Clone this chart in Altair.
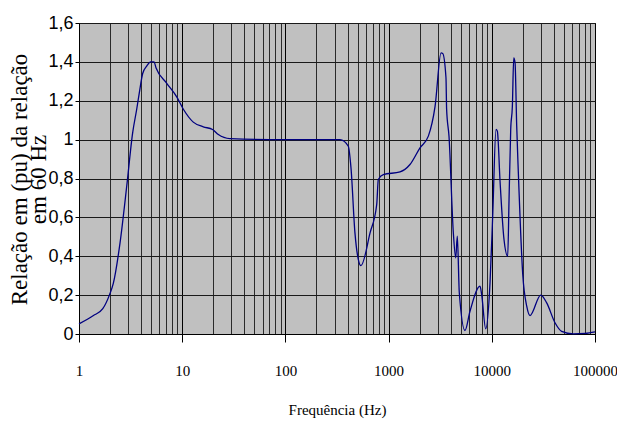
import altair as alt
import pandas as pd

freq = [1, 1.38, 1.70, 1.97, 2.15, 2.5, 2.9, 3.31, 3.62, 3.84, 4.14, 4.53, 4.95, 5.33, 5.57,
        7.08, 8.85, 10.3, 12.8, 16, 19.7, 22.4, 29, 100, 338, 407, 432, 472, 509, 540,
        661, 767, 795, 889, 1290, 1611, 2015, 2427, 2818, 3223, 3344, 3597, 3650, 3848, 4240,
        4470, 4633, 4843, 5498, 6147, 7685, 7976, 8725, 9610, 10200, 10990, 11320, 12020, 13130, 14260,
        14690, 15250, 15820, 16310, 16800, 17430, 18080, 19950, 21800, 23460, 29780, 34040, 40960, 47520, 61660,
        80000, 100000]
ratio = [0.052, 0.095, 0.13, 0.20, 0.26, 0.47, 0.76, 1.035, 1.155, 1.24, 1.34, 1.378, 1.40, 1.40, 1.37,
         1.29, 1.22, 1.155, 1.09, 1.066, 1.052, 1.026, 1.005, 1.0, 1.0, 0.966, 0.855, 0.52, 0.383, 0.352,
         0.52, 0.666, 0.795, 0.82, 0.834, 0.872, 0.958, 1.018, 1.17, 1.446, 1.443, 1.318, 1.155, 1.017, 0.52,
         0.392, 0.503, 0.212, 0.018, 0.117, 0.246, 0.203, 0.027, 0.263, 0.606, 1.052, 1.043, 0.786, 0.486, 0.40,
         0.69, 1.052, 1.17, 1.42, 1.395, 1.07, 0.83, 0.306, 0.143, 0.095, 0.20, 0.16, 0.058, 0.014, 0.001,
         0.003, 0.011]

decades = [1, 10, 100, 1000, 10000, 100000]
x_ticks = [m * d for d in decades[:-1] for m in range(1, 10)] + [decades[-1]]
y_ticks = [0, 0.2, 0.4, 0.6, 0.8, 1.0, 1.2, 1.4, 1.6]

df = pd.DataFrame({"f": freq, "r": ratio})

dec_test = "indexof([1,10,100,1000,10000,100000], datum.value) >= 0"

chart = alt.Chart(df).mark_line(color="#000080", strokeWidth=1.3, interpolate="monotone").encode(
    x=alt.X("f:Q", scale=alt.Scale(type="log", domain=[1, 100000], nice=False),
            axis=alt.Axis(
                values=x_ticks,
                labelExpr=f"{dec_test} ? format(datum.value, 'd') : ''",
                grid=True,
                gridColor={"condition": {"test": dec_test, "value": "#000000"}, "value": "#2a2a2a"},
                gridWidth=1,
                gridOpacity=1,
                tickSize=8,
                tickColor="#000000",
                tickOpacity={"condition": {"test": dec_test, "value": 1}, "value": 0},
                domainColor="#000000",
                labelFont="Liberation Serif",
                labelFontSize=15,
                labelColor="#000000",
                labelPadding=21,
                labelFlush=False,
                labelOverlap=False,
                title="Frequência (Hz)",
                titleFont="Liberation Serif",
                titleFontSize=15,
                titleFontWeight="normal",
                titleColor="#000000",
                titleBaseline="top",
                titleY=68,
            )),
    y=alt.Y("r:Q", scale=alt.Scale(domain=[0, 1.6], nice=False),
            axis=alt.Axis(
                values=y_ticks,
                labelExpr="replace(format(datum.value, '~g'), '.', ',')",
                grid=True,
                gridColor="#1a1a1a",
                gridWidth=1,
                gridOpacity=1,
                tickSize=4,
                tickColor="#000000",
                domainColor="#000000",
                labelFont="Liberation Sans",
                labelFontSize=18,
                labelColor="#000000",
                labelPadding=2,
                labelFlush=False,
                title=["Relação em (pu) da relação", "em 60 Hz"],
                titleFont="Liberation Serif",
                titleFontSize=23,
                titleFontWeight="normal",
                titleColor="#000000",
                titleLineHeight=19,
                titleBaseline="top",
                titleX=-71,
                titleY=156,
                titleAngle=270,
            )),
).properties(
    width=516,
    height=311,
    autosize=alt.AutoSizeParams(type="none"),
    padding={"left": 71, "top": 15, "right": 22, "bottom": 85},
).configure_view(
    fill="#C0C0C0",
    stroke="#000000",
    strokeWidth=1,
)

chart.save("out.html", embed_options={"renderer": "svg", "actions": False})
